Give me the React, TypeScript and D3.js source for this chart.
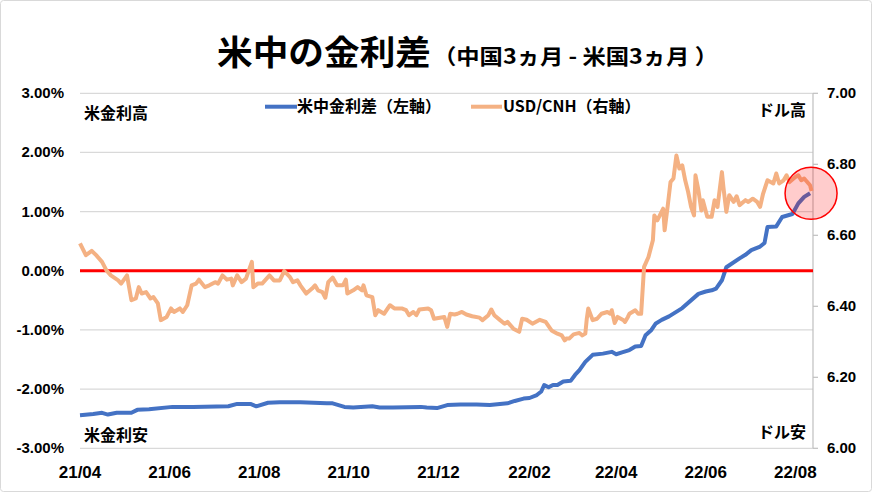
import React from "react";
import * as d3 from "d3";

const W = 873;
const H = 494;

const leftTicks = [-3, -2, -1, 0, 1, 2, 3];
const rightTicks = [6.0, 6.2, 6.4, 6.6, 6.8, 7.0];
const xDomain = ["2021-04-01", "2022-08-13"];
const xTickRange = ["2021-04-01", "2022-08-02"];

const spread: [string, number][] = [
  ["2021-04-01", -2.44], ["2021-04-10", -2.42], ["2021-04-16", -2.4], ["2021-04-20", -2.43],
  ["2021-04-26", -2.4], ["2021-05-06", -2.4], ["2021-05-10", -2.35], ["2021-05-18", -2.34],
  ["2021-06-03", -2.3], ["2021-06-17", -2.3], ["2021-07-11", -2.29], ["2021-07-17", -2.25],
  ["2021-07-26", -2.25], ["2021-07-30", -2.29], ["2021-08-07", -2.23], ["2021-08-15", -2.22],
  ["2021-08-29", -2.22], ["2021-09-16", -2.24], ["2021-09-20", -2.24], ["2021-09-28", -2.3],
  ["2021-10-04", -2.31], ["2021-10-17", -2.29], ["2021-10-22", -2.31], ["2021-10-31", -2.31],
  ["2021-11-19", -2.3], ["2021-11-23", -2.31], ["2021-11-30", -2.32], ["2021-12-07", -2.27],
  ["2021-12-16", -2.26], ["2021-12-27", -2.26], ["2022-01-05", -2.27], ["2022-01-17", -2.24],
  ["2022-01-22", -2.2], ["2022-01-28", -2.16], ["2022-02-01", -2.15], ["2022-02-06", -2.1],
  ["2022-02-09", -2.04], ["2022-02-11", -1.93], ["2022-02-14", -1.97], ["2022-02-17", -1.93],
  ["2022-02-20", -1.93], ["2022-02-24", -1.87], ["2022-03-01", -1.86], ["2022-03-04", -1.76],
  ["2022-03-07", -1.68], ["2022-03-11", -1.54], ["2022-03-16", -1.42], ["2022-03-23", -1.4],
  ["2022-03-29", -1.37], ["2022-04-01", -1.41], ["2022-04-05", -1.38], ["2022-04-10", -1.34],
  ["2022-04-14", -1.28], ["2022-04-18", -1.27], ["2022-04-21", -1.09], ["2022-04-25", -1.0],
  ["2022-04-28", -0.89], ["2022-05-02", -0.83], ["2022-05-07", -0.77], ["2022-05-16", -0.63],
  ["2022-05-27", -0.39], ["2022-06-01", -0.35], ["2022-06-05", -0.33], ["2022-06-08", -0.3],
  ["2022-06-12", -0.16], ["2022-06-15", 0.06], ["2022-06-24", 0.21], ["2022-06-28", 0.27],
  ["2022-07-02", 0.35], ["2022-07-08", 0.41], ["2022-07-11", 0.47], ["2022-07-13", 0.74],
  ["2022-07-19", 0.75], ["2022-07-23", 0.91], ["2022-07-30", 0.96], ["2022-08-03", 1.14],
  ["2022-08-07", 1.25], ["2022-08-11", 1.31],
];

const usdcnh: [string, number][] = [
  ["2021-04-01", 6.577], ["2021-04-05", 6.544], ["2021-04-09", 6.556], ["2021-04-12", 6.544],
  ["2021-04-16", 6.525], ["2021-04-19", 6.501], ["2021-04-22", 6.487], ["2021-04-27", 6.473],
  ["2021-04-29", 6.464], ["2021-05-03", 6.487], ["2021-05-06", 6.417], ["2021-05-09", 6.422],
  ["2021-05-11", 6.454], ["2021-05-13", 6.436], ["2021-05-16", 6.44], ["2021-05-19", 6.422],
  ["2021-05-21", 6.426], ["2021-05-24", 6.408], ["2021-05-26", 6.361], ["2021-05-30", 6.37],
  ["2021-06-02", 6.394], ["2021-06-04", 6.384], ["2021-06-08", 6.394], ["2021-06-10", 6.384],
  ["2021-06-13", 6.403], ["2021-06-16", 6.459], ["2021-06-19", 6.464], ["2021-06-21", 6.475],
  ["2021-06-25", 6.454], ["2021-06-28", 6.459], ["2021-07-02", 6.468], ["2021-07-04", 6.464],
  ["2021-07-07", 6.487], ["2021-07-10", 6.475], ["2021-07-13", 6.478], ["2021-07-14", 6.459],
  ["2021-07-17", 6.487], ["2021-07-20", 6.468], ["2021-07-23", 6.478], ["2021-07-27", 6.525],
  ["2021-07-28", 6.454], ["2021-07-31", 6.464], ["2021-08-03", 6.464], ["2021-08-08", 6.487],
  ["2021-08-11", 6.473], ["2021-08-15", 6.473], ["2021-08-18", 6.499], ["2021-08-22", 6.482],
  ["2021-08-24", 6.468], ["2021-08-27", 6.473], ["2021-08-29", 6.459], ["2021-09-02", 6.436],
  ["2021-09-06", 6.45], ["2021-09-08", 6.459], ["2021-09-10", 6.445], ["2021-09-13", 6.44],
  ["2021-09-15", 6.424], ["2021-09-17", 6.468], ["2021-09-20", 6.481], ["2021-09-23", 6.459],
  ["2021-09-27", 6.459], ["2021-09-29", 6.475], ["2021-09-30", 6.436], ["2021-10-04", 6.445],
  ["2021-10-07", 6.454], ["2021-10-10", 6.445], ["2021-10-11", 6.459], ["2021-10-13", 6.431],
  ["2021-10-17", 6.426], ["2021-10-19", 6.375], ["2021-10-21", 6.389], ["2021-10-25", 6.379],
  ["2021-10-29", 6.403], ["2021-11-01", 6.394], ["2021-11-06", 6.394], ["2021-11-09", 6.389],
  ["2021-11-11", 6.375], ["2021-11-14", 6.384], ["2021-11-16", 6.375], ["2021-11-18", 6.391],
  ["2021-11-24", 6.394], ["2021-11-26", 6.389], ["2021-11-28", 6.365], ["2021-12-02", 6.368],
  ["2021-12-05", 6.37], ["2021-12-07", 6.342], ["2021-12-09", 6.379], ["2021-12-12", 6.377],
  ["2021-12-14", 6.379], ["2021-12-17", 6.384], ["2021-12-20", 6.377], ["2021-12-24", 6.372],
  ["2021-12-29", 6.368], ["2021-12-31", 6.361], ["2022-01-04", 6.375], ["2022-01-06", 6.391],
  ["2022-01-08", 6.375], ["2022-01-12", 6.361], ["2022-01-15", 6.351], ["2022-01-17", 6.356],
  ["2022-01-21", 6.337], ["2022-01-25", 6.328], ["2022-01-27", 6.365], ["2022-01-30", 6.362],
  ["2022-02-03", 6.351], ["2022-02-08", 6.362], ["2022-02-12", 6.356], ["2022-02-16", 6.332],
  ["2022-02-20", 6.323], ["2022-02-23", 6.318], ["2022-02-25", 6.304], ["2022-02-26", 6.309],
  ["2022-02-28", 6.309], ["2022-03-03", 6.321], ["2022-03-07", 6.325], ["2022-03-09", 6.318],
  ["2022-03-11", 6.323], ["2022-03-12", 6.365], ["2022-03-13", 6.394], ["2022-03-16", 6.361],
  ["2022-03-19", 6.365], ["2022-03-22", 6.379], ["2022-03-26", 6.384], ["2022-03-28", 6.379],
  ["2022-03-29", 6.389], ["2022-03-31", 6.353], ["2022-04-02", 6.37], ["2022-04-06", 6.361],
  ["2022-04-07", 6.356], ["2022-04-09", 6.37], ["2022-04-10", 6.379], ["2022-04-14", 6.389],
  ["2022-04-16", 6.379], ["2022-04-18", 6.379], ["2022-04-20", 6.511], ["2022-04-23", 6.539],
  ["2022-04-26", 6.586], ["2022-04-27", 6.656], ["2022-04-29", 6.642], ["2022-05-03", 6.675],
  ["2022-05-04", 6.614], ["2022-05-06", 6.68], ["2022-05-08", 6.75], ["2022-05-10", 6.76],
  ["2022-05-12", 6.825], ["2022-05-14", 6.788], ["2022-05-16", 6.797], ["2022-05-18", 6.755],
  ["2022-05-20", 6.722], ["2022-05-22", 6.68], ["2022-05-24", 6.656], ["2022-05-25", 6.769],
  ["2022-05-27", 6.727], ["2022-05-29", 6.67], ["2022-05-30", 6.699], ["2022-06-02", 6.652],
  ["2022-06-05", 6.652], ["2022-06-07", 6.699], ["2022-06-09", 6.68], ["2022-06-12", 6.778],
  ["2022-06-13", 6.736], ["2022-06-15", 6.666], ["2022-06-17", 6.713], ["2022-06-20", 6.694],
  ["2022-06-22", 6.71], ["2022-06-24", 6.685], ["2022-06-28", 6.699], ["2022-06-30", 6.694],
  ["2022-07-03", 6.703], ["2022-07-06", 6.694], ["2022-07-08", 6.68], ["2022-07-10", 6.717],
  ["2022-07-13", 6.755], ["2022-07-17", 6.746], ["2022-07-19", 6.774], ["2022-07-21", 6.746],
  ["2022-07-24", 6.755], ["2022-07-26", 6.769], ["2022-07-28", 6.75], ["2022-08-01", 6.764],
  ["2022-08-03", 6.769], ["2022-08-05", 6.755], ["2022-08-07", 6.76], ["2022-08-11", 6.741],
  ["2022-08-12", 6.725],
];

const titleMain = "米中の金利差";
const titleSub = "（中国3ヵ月 - 米国3ヵ月 ）";
const legendNames = ["米中金利差（左軸）", "USD/CNH（右軸）"];
const cornerLabels = { tl: "米金利高", bl: "米金利安", tr: "ドル高", br: "ドル安" };

const BLUE = "#4472C4";
const ORANGE = "#F4B183";
const parse = d3.timeParse("%Y-%m-%d");
const CJK = "'Noto Sans CJK JP', 'Noto Sans', sans-serif";
const NUM = "'Liberation Sans', Arial, sans-serif";

export default function App() {
  const left = 80, right = 813, top = 93.3, bottom = 448.3;
  const x = d3.scaleTime().domain(xDomain.map((d) => parse(d) as Date)).range([left, right]);
  const yL = d3.scaleLinear().domain([-3, 3]).range([bottom, top]);
  const yR = d3.scaleLinear().domain([6, 7]).range([bottom, top]);

  const lineL = d3.line<[string, number]>().x((d) => x(parse(d[0]) as Date)).y((d) => yL(d[1]));
  const lineR = d3.line<[string, number]>().x((d) => x(parse(d[0]) as Date)).y((d) => yR(d[1]));

  const xTicks = d3.timeMonth.range(parse(xTickRange[0]) as Date, parse(xTickRange[1]) as Date, 2);
  const fmt = d3.timeFormat("%y/%m");
  const fmtPct = (v: number) => v.toFixed(2) + "%";

  const last = spread[spread.length - 1];
  const cx = x(parse(last[0]) as Date) + 1;
  const cy = yL(last[1]);

  return (
    <div style={{ position: "absolute", left: 0, top: 0 }}>
      <svg width={W} height={H} viewBox={`0 0 ${W} ${H}`} style={{ display: "block", background: "#fff" }}>
        <rect x={0.5} y={0.5} width={W - 2} height={H - 3} rx={3} fill="#fff" stroke="#d9d9d9" />

        {/* title */}
        <text x={217} y={64.5} fontFamily={CJK} fontWeight={700} fontSize={34} fill="#000"
          textLength={214} lengthAdjust="spacingAndGlyphs">{titleMain}</text>
        <text x={433} y={64} fontFamily={CJK} fontWeight={700} fontSize={21} fill="#000"
          textLength={285} lengthAdjust="spacingAndGlyphs">{titleSub}</text>

        {/* gridlines */}
        {leftTicks.map((t) => (
          <line key={t} x1={left} x2={right} y1={yL(t)} y2={yL(t)} stroke="#d9d9d9" strokeWidth={1.2} />
        ))}

        {/* left axis labels */}
        {leftTicks.map((t) => (
          <text key={"l" + t} x={64} y={yL(t) + 5} textAnchor="end" fontFamily={NUM} fontWeight={700}
            fontSize={15} fill="#000">{fmtPct(t)}</text>
        ))}

        {/* right axis */}
        <line x1={right} x2={right} y1={top} y2={bottom} stroke="#bfbfbf" strokeWidth={1.2} />
        {rightTicks.map((t) => (
          <g key={"r" + t}>
            <line x1={right} x2={right + 5} y1={yR(t)} y2={yR(t)} stroke="#bfbfbf" strokeWidth={1.2} />
            <text x={827} y={yR(t) + 5} fontFamily={NUM} fontWeight={700} fontSize={15} fill="#000">
              {t.toFixed(2)}
            </text>
          </g>
        ))}

        {/* x axis labels */}
        {xTicks.map((d) => (
          <text key={+d} x={x(d)} y={478} textAnchor="middle" fontFamily={NUM} fontWeight={700}
            fontSize={17} fill="#000">{fmt(d)}</text>
        ))}

        {/* series */}
        <path d={lineL(spread) || ""} fill="none" stroke={BLUE} strokeWidth={4} strokeLinejoin="round" />
        <line x1={left} x2={right} y1={yL(0)} y2={yL(0)} stroke="#ff0000" strokeWidth={3} />
        <path d={lineR(usdcnh) || ""} fill="none" stroke={ORANGE} strokeWidth={4} strokeLinejoin="round" />

        {/* highlight circle */}
        <circle cx={cx} cy={cy} r={26} fill="rgba(255,0,0,0.2)" stroke="#ff0000" strokeWidth={1.5} />

        {/* legend */}
        <line x1={265} x2={297} y1={106.7} y2={106.7} stroke={BLUE} strokeWidth={4} />
        <text x={297} y={112} fontFamily={CJK} fontWeight={700} fontSize={16} fill="#000">{legendNames[0]}</text>
        <line x1={471} x2={502} y1={106.7} y2={106.7} stroke={ORANGE} strokeWidth={4} />
        <text x={503} y={112} fontFamily={CJK} fontWeight={700} fontSize={16} fill="#000">{legendNames[1]}</text>

        {/* corner labels */}
        <text x={84} y={119} fontFamily={CJK} fontWeight={700} fontSize={16} fill="#000">{cornerLabels.tl}</text>
        <text x={84} y={441} fontFamily={CJK} fontWeight={700} fontSize={16} fill="#000">{cornerLabels.bl}</text>
        <text x={806} y={116} textAnchor="end" fontFamily={CJK} fontWeight={700} fontSize={16} fill="#000">{cornerLabels.tr}</text>
        <text x={806} y={438} textAnchor="end" fontFamily={CJK} fontWeight={700} fontSize={16} fill="#000">{cornerLabels.br}</text>
      </svg>
    </div>
  );
}
